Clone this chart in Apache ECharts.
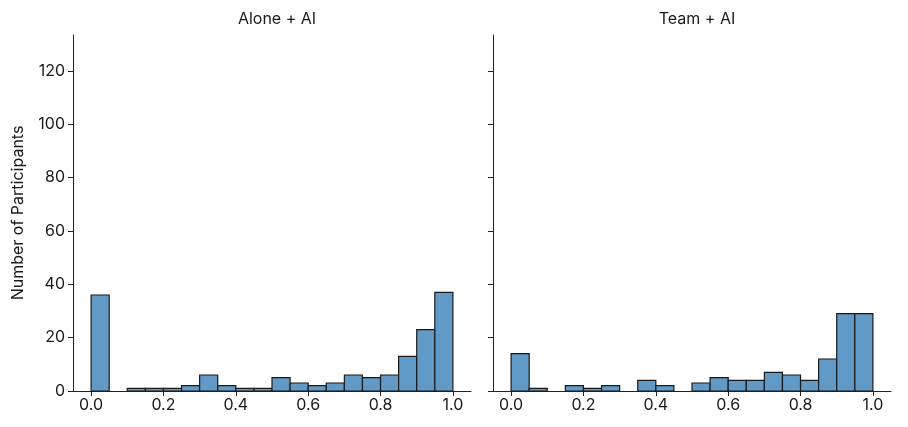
<!DOCTYPE html>
<html><head><meta charset="utf-8">
<script src="https://cdn.jsdelivr.net/npm/echarts@6/dist/echarts.min.js"></script>
<style>html,body{margin:0;padding:0;background:#fff}#c{width:908px;height:427px}</style>
</head><body><div id="c"></div>
<script>
const panelTitles = ["Alone + AI", "Team + AI"];
const binEdges = [0,0.05,0.1,0.15,0.2,0.25,0.3,0.35,0.4,0.45,0.5,0.55,0.6,0.65,0.7,0.75,0.8,0.85,0.9,0.95,1.0];
const aloneCounts = [36,0,1,1,1,2,6,2,1,1,5,3,2,3,6,5,6,13,23,37];
const teamCounts  = [14,1,0,2,1,2,0,4,2,0,3,5,4,4,7,6,4,12,29,29];
const xTicks = [0,0.2,0.4,0.6,0.8,1.0];
const yTicks = [0,20,40,60,80,100,120];
const yLabel = "Number of Participants";

const font = "Inter, 'Noto Sans', sans-serif";
const txt = '#1a1a1a';
const fs = 16;
function toData(counts){ return counts.map((c,i)=>[binEdges[i], binEdges[i+1], c]).filter(d=>d[2]>0); }
const grids = [{left:73, right:437, top:35, bottom:36},{left:493, right:17, top:35, bottom:36}];
const xAxes = grids.map((g,i)=>({
  type:'value', gridIndex:i, min:-0.05, max:1.05,
  splitLine:{show:false},
  axisLine:{onZero:false, lineStyle:{color:'#222', width:1}},
  axisTick:{customValues:xTicks, length:5, lineStyle:{color:'#222'}},
  axisLabel:{customValues:xTicks, formatter:v=>v.toFixed(1), color:txt, fontSize:fs, fontFamily:font, margin:6}
}));
const yAxes = grids.map((g,i)=>({
  type:'value', gridIndex:i, min:0, max:133.5,
  name: i===0 ? yLabel : '', nameLocation:'middle', nameGap:47,
  nameTextStyle:{color:txt, fontSize:fs, fontFamily:font},
  splitLine:{show:false},
  axisLine:{show:true, onZero:false, lineStyle:{color:'#222', width:1}},
  axisTick:{customValues:yTicks, length:5, lineStyle:{color:'#222'}},
  axisLabel:{show:i===0, customValues:yTicks, color:txt, fontSize:fs, fontFamily:font, margin:8}
}));
function renderBar(params, api){
  const p0 = api.coord([api.value(0), api.value(2)]);
  const p1 = api.coord([api.value(1), 0]);
  return {type:'rect', shape:{x:p0[0], y:p0[1], width:p1[0]-p0[0], height:p1[1]-p0[1]},
    style:{fill:'#6199c7', stroke:'#1a1a1a', lineWidth:1.2}};
}
const chart = echarts.init(document.getElementById('c'), null, {renderer:'canvas'});
chart.setOption({
  animation:false,
  title: panelTitles.map((t,i)=>({text:t, left: i===0 ? 272 : 692, top:6, textAlign:'center',
    textStyle:{color:txt, fontSize:fs, fontWeight:'normal', fontFamily:font}})),
  grid: grids,
  xAxis: xAxes, yAxis: yAxes,
  series: [aloneCounts, teamCounts].map((c,i)=>({
    type:'custom', xAxisIndex:i, yAxisIndex:i, renderItem:renderBar,
    encode:{x:[0,1], y:2}, data:toData(c)
  }))
});
</script></body></html>
